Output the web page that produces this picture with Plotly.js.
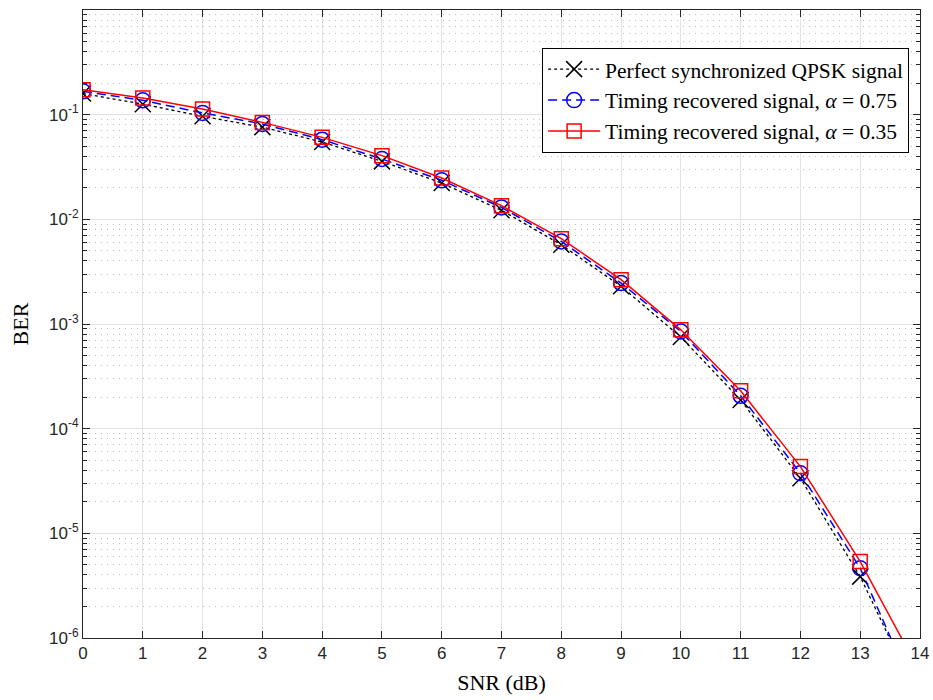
<!DOCTYPE html>
<html><head><meta charset="utf-8">
<script src="https://cdn.plot.ly/plotly-3.0.1.min.js"></script>
<style>body{margin:0;padding:0;background:#fff}#chart{width:933px;height:700px}</style>
</head><body><div id="chart"></div>
<script>
const snr = [0,1,2,3,4,5,6,7,8,9,10,11,12,13,14];
const berPerfect = [0.159,0.126,0.0964,0.076,0.0548,0.0358,0.0222,0.0122,0.00571,0.00229,0.00075,1.88e-4,3.36e-5,3.86e-6,2.45e-7];
const berAlpha075 = [0.167,0.137,0.104,0.0815,0.0577,0.0377,0.0236,0.0130,0.00615,0.00246,0.000848,2.06e-4,3.75e-5,4.64e-6,2.3e-7];
const berAlpha035 = [0.173,0.144,0.113,0.0844,0.0607,0.0406,0.0248,0.0135,0.00653,0.00265,0.00088,2.30e-4,4.34e-5,5.37e-6,4.7e-7];
const seriesNames = ['Perfect synchronized QPSK signal','Timing recovered signal, <i>α</i> = 0.75','Timing recovered signal, <i>α</i> = 0.35'];
const xTicks = [0,1,2,3,4,5,6,7,8,9,10,11,12,13,14];
const yTickVals = [1e-6,1e-5,1e-4,1e-3,1e-2,1e-1,1];
const yTickText = ['10<sup>-6</sup>','10<sup>-5</sup>','10<sup>-4</sup>','10<sup>-3</sup>','10<sup>-2</sup>','10<sup>-1</sup>','10<sup>0</sup>'];

const minorVals = [];
for (let e = -6; e < 0; e++) for (let d = 2; d <= 9; d++) minorVals.push(d * Math.pow(10, e));

const traces = [
  {x: snr, y: berPerfect, name: seriesNames[0], mode: 'lines+markers',
   line: {color: '#000', width: 1.3, dash: 'dot'},
   marker: {symbol: 'x-thin-open', size: 16, color: '#000', line: {color: '#000', width: 1.5}}},
  {x: snr, y: berAlpha075, name: seriesNames[1], mode: 'lines+markers',
   line: {color: '#0000ff', width: 1.5, dash: '9px,5px'},
   marker: {symbol: 'circle-open', size: 15, color: '#0000ff', line: {color: '#0000ff', width: 1.5}}},
  {x: snr, y: berAlpha035, name: seriesNames[2], mode: 'lines+markers',
   line: {color: '#ff0000', width: 1.5},
   marker: {symbol: 'square-open', size: 14, color: '#ff0000', line: {color: '#ff0000', width: 1.5}}}
];

const layout = {
  width: 933, height: 700,
  margin: {l: 83, r: 13, t: 10, b: 62},
  paper_bgcolor: '#fff', plot_bgcolor: '#fff',
  showlegend: true,
  legend: {x: 0.987, y: 0.94, xanchor: 'right', yanchor: 'top',
    bgcolor: '#fff', bordercolor: '#000', borderwidth: 1,
    font: {family: 'Liberation Serif, serif', size: 21.5, color: '#000'},
    itemwidth: 52, tracegroupgap: 0},
  xaxis: {
    range: [0, 14], tickmode: 'array', tickvals: xTicks,
    showgrid: true, gridcolor: '#e3e3e3', gridwidth: 1,
    zeroline: false, showline: true, linecolor: '#262626', linewidth: 1, mirror: 'ticks',
    ticks: 'inside', ticklen: 7, tickcolor: '#262626',
    tickfont: {family: 'Liberation Sans, Arial, sans-serif', size: 17, color: '#262626'},
    title: {text: 'SNR (dB)', font: {family: 'Liberation Serif, serif', size: 22, color: '#000'}, standoff: 12}
  },
  yaxis: {
    type: 'log', range: [-6, 0], tickmode: 'array', tickvals: yTickVals, ticktext: yTickText,
    showgrid: true, gridcolor: '#e3e3e3', gridwidth: 1,
    zeroline: false, showline: true, linecolor: '#262626', linewidth: 1, mirror: 'ticks',
    ticks: 'inside', ticklen: 7, tickcolor: '#262626',
    tickfont: {family: 'Liberation Sans, Arial, sans-serif', size: 17, color: '#262626'},
    minor: {tickmode: 'array', tickvals: minorVals, showgrid: true, gridcolor: '#bdbdbd', griddash: '1px,5px', gridwidth: 1,
      ticks: 'inside', ticklen: 4, tickcolor: '#262626'},
    title: {text: 'BER', font: {family: 'Liberation Serif, serif', size: 22, color: '#000'}, standoff: 14}
  }
};
Plotly.newPlot('chart', traces, layout, {displayModeBar: false, staticPlot: true});
</script></body></html>
